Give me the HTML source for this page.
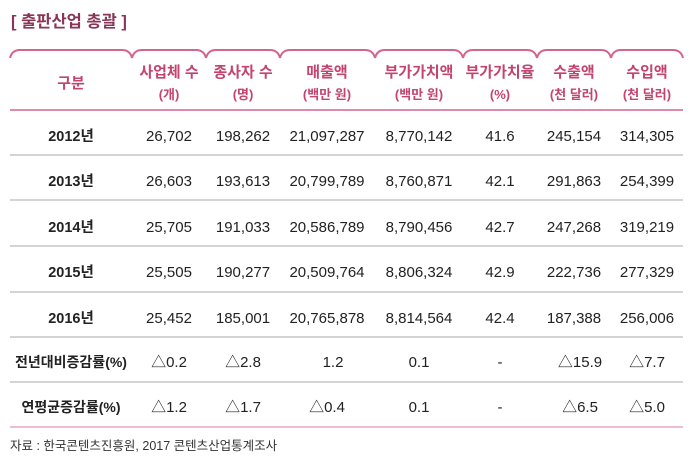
<!DOCTYPE html>
<html><head><meta charset="utf-8"><style>
body{margin:0;background:#fff;width:695px;height:469px;overflow:hidden}
svg text{font-family:"Liberation Sans","Noto Sans CJK KR",sans-serif}
</style></head><body>
<svg width="695" height="469" viewBox="0 0 695 469">
<text x="11" y="27" font-size="16.5" font-weight="bold" fill="#8a3658">[ 출판산업 총괄 ]</text>
<g fill="none" stroke="#d4658f" stroke-width="2">
<path d="M10 58 Q12 50 20 50 L122 50 Q130 50 132 58"/>
<path d="M132 58 Q134 50 142 50 L196 50 Q204 50 206 58"/>
<path d="M206 58 Q208 50 216 50 L270 50 Q278 50 280 58"/>
<path d="M280 58 Q282 50 290 50 L365 50 Q373 50 375 58"/>
<path d="M375 58 Q377 50 385 50 L453 50 Q461 50 463 58"/>
<path d="M463 58 Q465 50 473 50 L527 50 Q535 50 537 58"/>
<path d="M537 58 Q539 50 547 50 L601 50 Q609 50 611 58"/>
<path d="M611 58 Q613 50 621 50 L673 50 Q681 50 683 58"/>
</g>
<line x1="10" y1="110" x2="683" y2="110" stroke="#d4658f" stroke-width="1.5"/>
<g stroke="#bbb" stroke-width="1.2">
<line x1="10" y1="155" x2="683" y2="155"/><line x1="10" y1="200" x2="683" y2="200"/>
<line x1="10" y1="246" x2="683" y2="246"/><line x1="10" y1="292" x2="683" y2="292"/>
<line x1="10" y1="337" x2="683" y2="337"/><line x1="10" y1="382" x2="683" y2="382"/>
</g>
<line x1="10" y1="427" x2="683" y2="427" stroke="#e8a9c1" stroke-width="1.5"/>
<g fill="#c2446f" font-weight="bold" text-anchor="middle" font-size="15">
<text x="71" y="88">구분</text>
<text x="169" y="77">사업체 수</text><text x="243" y="77">종사자 수</text><text x="327" y="77">매출액</text>
<text x="419" y="77">부가가치액</text><text x="500" y="77">부가가치율</text><text x="574" y="77">수출액</text><text x="647" y="77">수입액</text>
<g font-size="13"><text x="169" y="99">(개)</text><text x="243" y="99">(명)</text><text x="327" y="99">(백만 원)</text>
<text x="419" y="99">(백만 원)</text><text x="500" y="99">(%)</text><text x="574" y="99">(천 달러)</text><text x="647" y="99">(천 달러)</text></g>
</g>
<g fill="#222" font-size="15" text-anchor="middle">
<g font-weight="bold" font-size="14.5"><text x="71" y="141">2012년</text><text x="71" y="186">2013년</text><text x="71" y="232">2014년</text><text x="71" y="277">2015년</text><text x="71" y="323">2016년</text><text x="71" y="367" font-size="14">전년대비증감률(%)</text><text x="71" y="412" font-size="14">연평균증감률(%)</text></g>
<text x="169" y="141">26,702</text><text x="243" y="141">198,262</text><text x="327" y="141">21,097,287</text><text x="419" y="141">8,770,142</text><text x="500" y="141">41.6</text><text x="574" y="141">245,154</text><text x="647" y="141">314,305</text>
<text x="169" y="186">26,603</text><text x="243" y="186">193,613</text><text x="327" y="186">20,799,789</text><text x="419" y="186">8,760,871</text><text x="500" y="186">42.1</text><text x="574" y="186">291,863</text><text x="647" y="186">254,399</text>
<text x="169" y="232">25,705</text><text x="243" y="232">191,033</text><text x="327" y="232">20,586,789</text><text x="419" y="232">8,790,456</text><text x="500" y="232">42.7</text><text x="574" y="232">247,268</text><text x="647" y="232">319,219</text>
<text x="169" y="277">25,505</text><text x="243" y="277">190,277</text><text x="327" y="277">20,509,764</text><text x="419" y="277">8,806,324</text><text x="500" y="277">42.9</text><text x="574" y="277">222,736</text><text x="647" y="277">277,329</text>
<text x="169" y="323">25,452</text><text x="243" y="323">185,001</text><text x="327" y="323">20,765,878</text><text x="419" y="323">8,814,564</text><text x="500" y="323">42.4</text><text x="574" y="323">187,388</text><text x="647" y="323">256,006</text>
<text x="169" y="367">△0.2</text><text x="243" y="367">△2.8</text><text x="333" y="367">1.2</text><text x="419" y="367">0.1</text><text x="500" y="367">-</text><text x="580" y="367">△15.9</text><text x="647" y="367">△7.7</text>
<text x="169" y="412">△1.2</text><text x="243" y="412">△1.7</text><text x="327" y="412">△0.4</text><text x="419" y="412">0.1</text><text x="500" y="412">-</text><text x="580" y="412">△6.5</text><text x="647" y="412">△5.0</text>
</g>
<text x="10" y="450" font-size="12.5" fill="#333">자료 : 한국콘텐츠진흥원, 2017 콘텐츠산업통계조사</text>
</svg>
</body></html>
